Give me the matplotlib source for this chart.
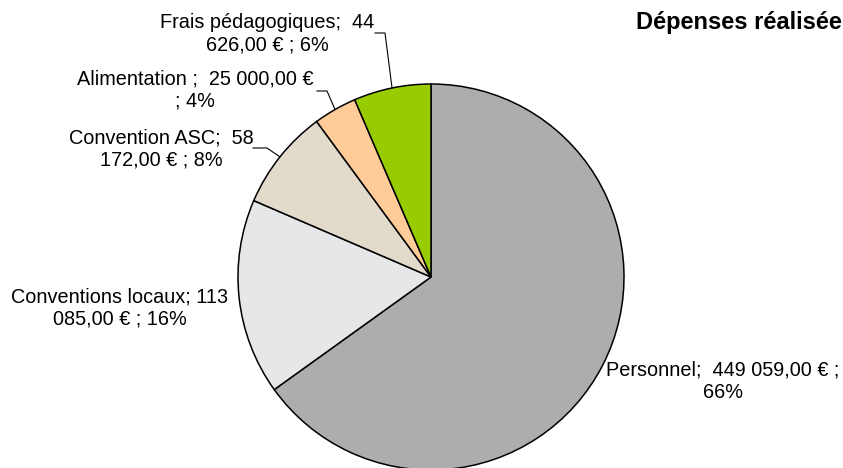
import numpy as np
import matplotlib.pyplot as plt

# data, in drawing order (clockwise from the top)
categories = ["Personnel", "Conventions locaux", "Convention ASC", "Alimentation", "Frais pédagogiques"]
values = [449059.00, 113085.00, 58172.00, 25000.00, 44626.00]
labels = [
    "Personnel;  449 059,00 € ;\n66%",
    "Conventions locaux; 113\n085,00 € ; 16%",
    "Convention ASC;  58\n172,00 € ; 8%",
    "Alimentation ;  25 000,00 €\n; 4%",
    "Frais pédagogiques;  44\n626,00 € ; 6%",
]
colors = ["#acadaf", "#e6e7e9", "#e2dacb", "#ffcc99", "#99cc00"]
title = "Dépenses réalisée"

plt.rcParams['font.family'] = ['Liberation Sans', 'DejaVu Sans']

W, H = 843, 468
fig = plt.figure(figsize=(W / 100, H / 100), dpi=100)
ax = fig.add_axes([0, 0, 1, 1])

cx, cy, r = 431, H - 277, 193
wedges, _ = ax.pie(values, colors=colors, startangle=90, counterclock=False,
                   center=(cx, cy), radius=r, frame=True,
                   wedgeprops=dict(edgecolor='black', linewidth=1.1))
ax.set_xlim(0, W)
ax.set_ylim(0, H)
ax.set_aspect('equal')
ax.axis('off')

# label layout: (center x, center y from top, leader elbow x, leader start x, leader y)
layout = [
    (723, 381, None, None, None),
    (120, 308, None, None, None),
    (161, 149, 267, 253, 148),
    (195, 90, 327, 317, 91),
    (267, 34, 385, 375, 33),
]

for w, lab, (tx, ty, ex, sx, ly) in zip(wedges, labels, layout):
    ax.text(tx, H - ty, lab, ha='center', va='center', fontsize=14.3,
            linespacing=1.25, color='black')
    if ex is not None:
        mid = np.deg2rad((w.theta1 + w.theta2) / 2)
        px = cx + r * np.cos(mid)
        py = cy + r * np.sin(mid)
        ax.plot([sx, ex, px], [H - ly, H - ly, py], color='black', lw=0.8)

fig.text(636 / W, 1 - 22 / H, title, ha='left', va='center',
         fontsize=17, fontweight='bold')

fig.savefig("out.png", dpi=100)
